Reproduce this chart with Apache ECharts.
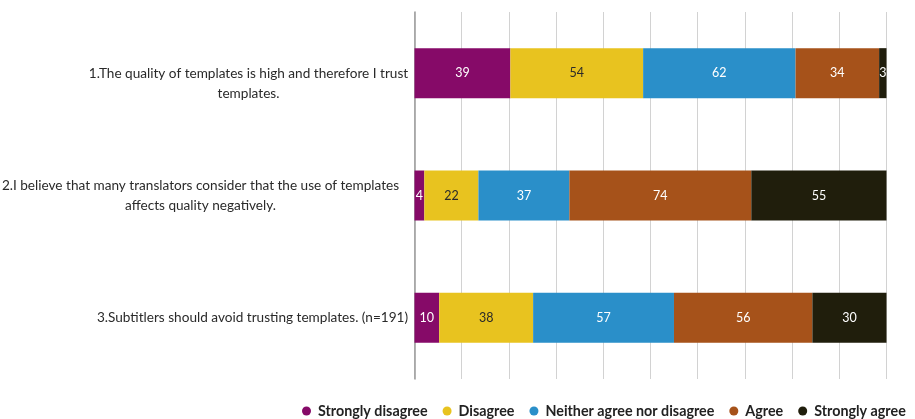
<!DOCTYPE html>
<html><head><meta charset="utf-8">
<script src="https://cdn.jsdelivr.net/npm/echarts@6/dist/echarts.min.js"></script>
<style>html,body{margin:0;padding:0;background:#fff}#c{width:915px;height:419px}</style>
</head><body><div id="c"></div>
<script>
const categories = [
  "1.The quality of templates is high and therefore I trust\ntemplates.",
  "2.I believe that many translators consider that the use of templates\naffects quality negatively.",
  "3.Subtitlers should avoid trusting templates. (n=191)"
];
const seriesNames = ["Strongly disagree","Disagree","Neither agree nor disagree","Agree","Strongly agree"];
const stronglyDisagree = [39, 4, 10];
const disagree = [54, 22, 38];
const neither = [62, 37, 57];
const agree = [34, 74, 56];
const stronglyAgree = [3, 55, 30];
const colors = ["#860a68","#e8c31f","#2a8fc9","#a6521a","#201e0c"];
const labelColors = ["#fff","#2a2a2a","#fff","#fff","#fff"];

const raw = [stronglyDisagree, disagree, neither, agree, stronglyAgree];
const totals = categories.map((_, i) => raw.reduce((s, arr) => s + arr[i], 0));
const font = "Lato";
const catSize = 13.6;

// measure line widths so each wrapped line can be centred within its label block
const ctx = document.createElement('canvas').getContext('2d');
ctx.font = catSize + 'px ' + font;
const blockW = categories.map(c => Math.max(...c.split('\n').map(l => ctx.measureText(l).width)));
const rich = {};
const baseStyle = {fontFamily: font, fontSize: catSize, color: '#2a2a2a', lineHeight: 20, align: 'center'};
categories.forEach((c, i) => {
  rich['b' + i] = Object.assign({}, baseStyle, {width: Math.ceil(blockW[i])});
  rich['w' + i] = Object.assign({}, baseStyle, {width: Math.ceil(blockW[i]) + 18});
});

const chart = echarts.init(document.getElementById('c'));
chart.setOption({
  animation: false,
  textStyle: {fontFamily: font},
  legend: {
    top: 399, left: 297, width: 640,
    icon: 'circle', itemWidth: 9, itemHeight: 9, itemGap: 15,
    textStyle: {fontFamily: font, fontSize: 14.3, fontWeight: 'bold', color: '#222', padding: [0, 0, 0, 2]},
    data: seriesNames
  },
  grid: {left: 414.5, right: 28.5, top: 12, bottom: 40, containLabel: false, outerBoundsMode: 'none'},
  xAxis: {
    type: 'value', min: 0, max: 100, interval: 10,
    axisLabel: {show: false}, axisTick: {show: false}, axisLine: {show: false},
    splitLine: {show: true, lineStyle: {color: '#d2d2d2', width: 1}}
  },
  yAxis: {
    type: 'category', inverse: true, data: categories,
    axisTick: {show: false},
    axisLine: {show: true, lineStyle: {color: '#9a9a9a', width: 1.5}},
    axisLabel: {
      margin: 6, fontFamily: font, fontSize: catSize, color: '#2a2a2a', lineHeight: 20,
      formatter: (v, idx) => {
        const lines = v.split('\n');
        let out = lines.map((l, k) => (idx === 1 && k === 1) ? '{w' + idx + '|' + l + '}' : '{b' + idx + '|' + l + '}');
        if (idx === 0) out = ['{b0| }'].concat(out);
        return out.join('\n');
      },
      rich: rich
    }
  },
  series: raw.map((arr, s) => ({
    name: seriesNames[s], type: 'bar', stack: 'total', barWidth: 50,
    itemStyle: {color: colors[s]},
    data: arr.map((v, i) => ({value: v / totals[i] * 100, raw: v})),
    label: {
      show: true, position: 'inside', fontFamily: font, fontSize: 12.5, color: labelColors[s],
      formatter: p => String(p.data.raw)
    }
  }))
});
</script></body></html>
